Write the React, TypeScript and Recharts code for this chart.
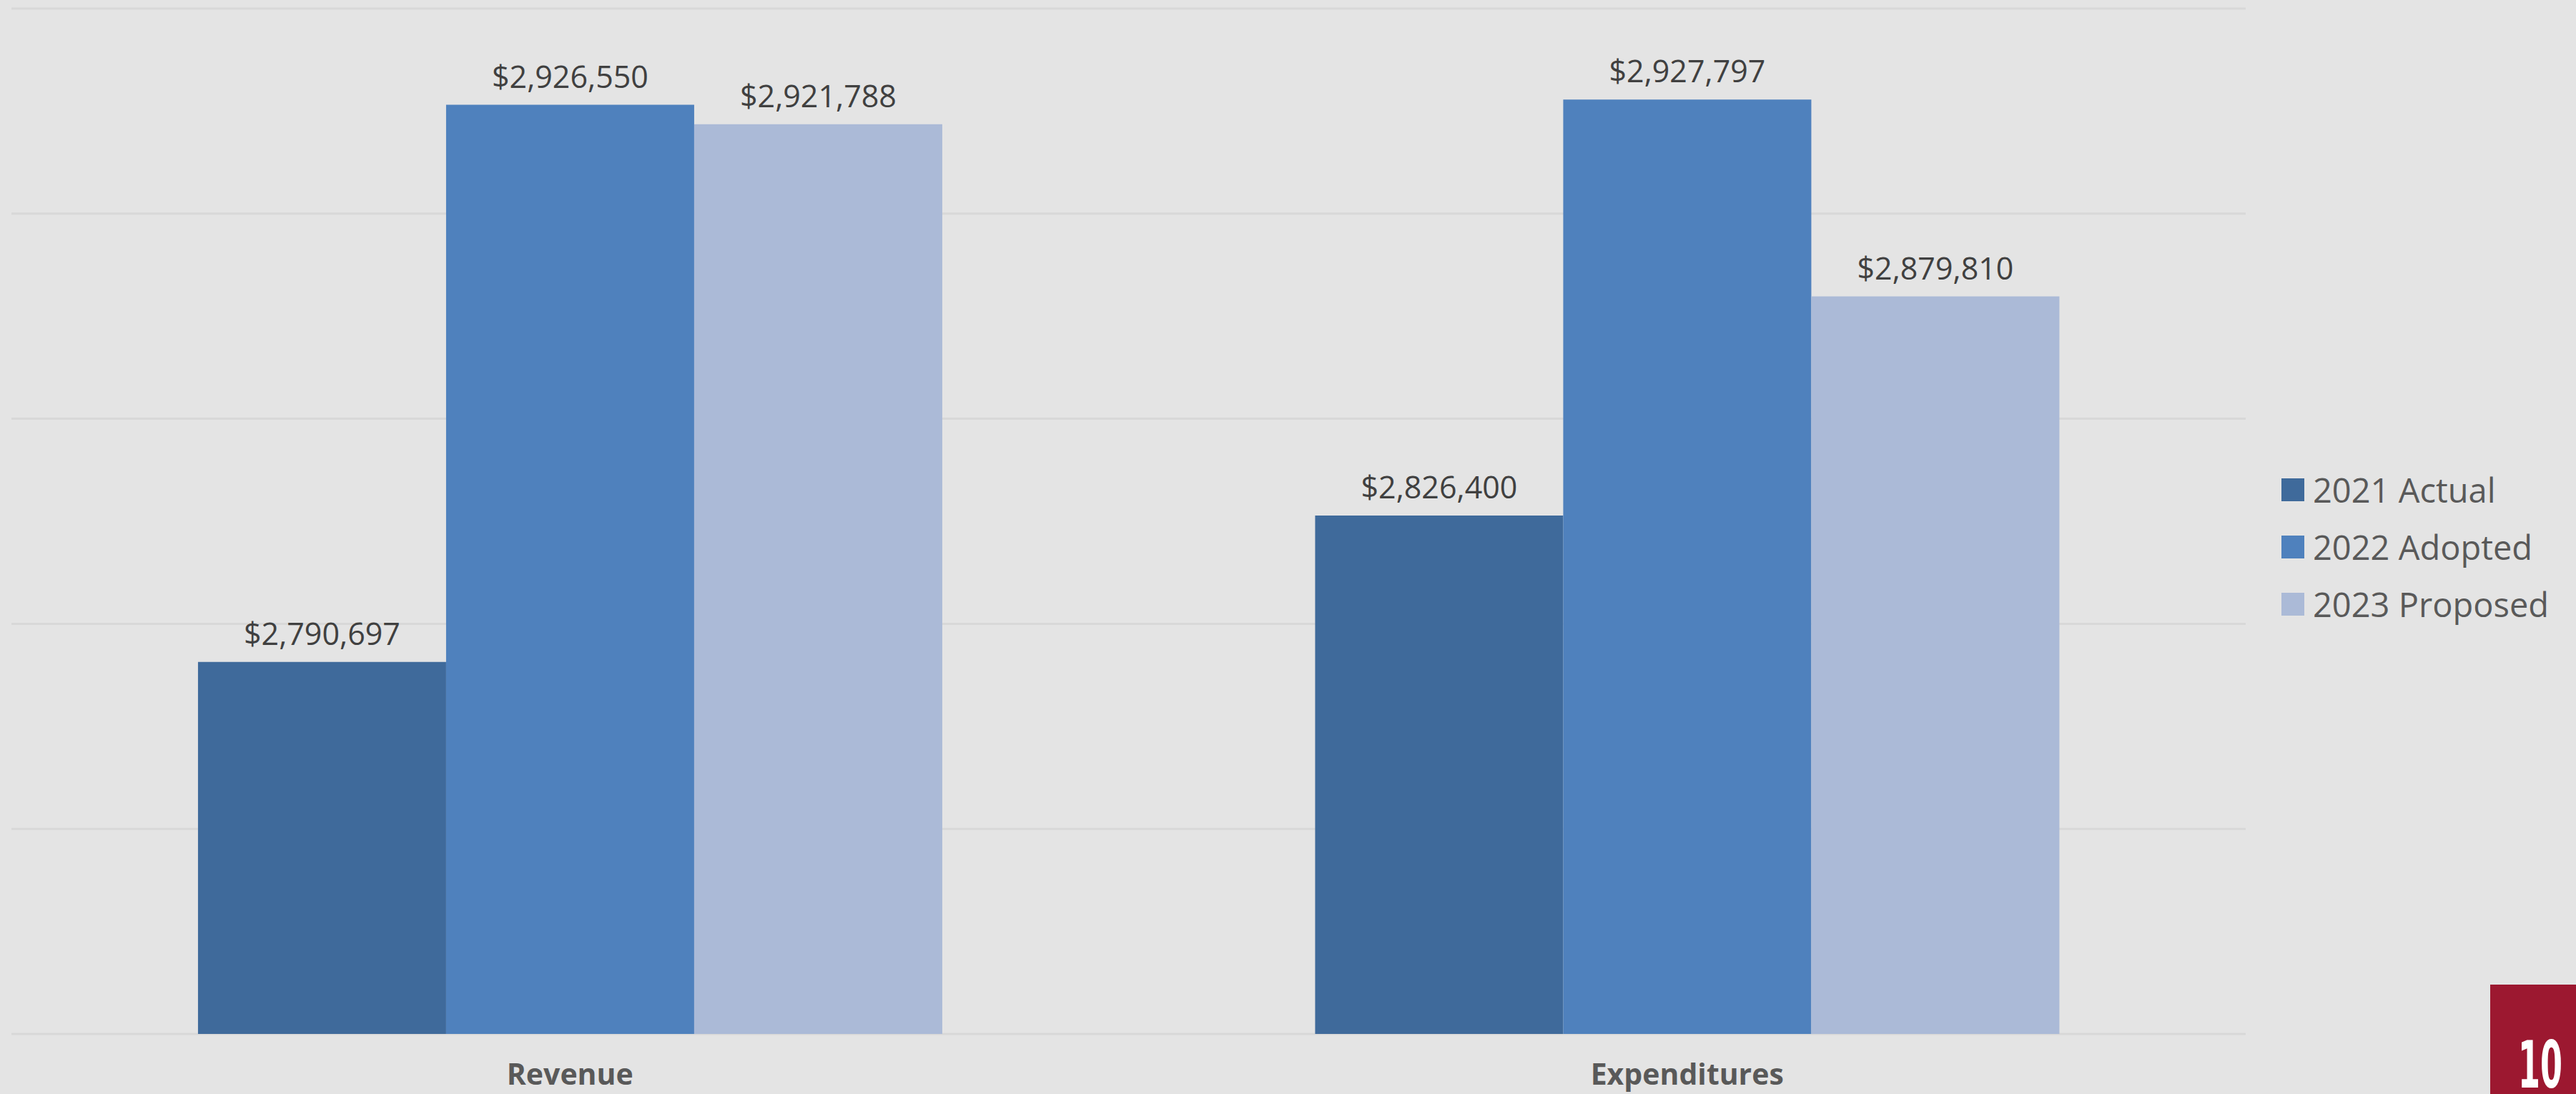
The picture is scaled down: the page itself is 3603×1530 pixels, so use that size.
import React from 'react';
import { BarChart, Bar, XAxis, YAxis, CartesianGrid, LabelList } from 'recharts';

// values
const categories = ['Revenue', 'Expenditures'];
const actual2021 = [2790697, 2826400];
const adopted2022 = [2926550, 2927797];
const proposed2023 = [2921788, 2879810];
const yTicks = [2700000, 2750000, 2800000, 2850000, 2900000, 2950000];

const seriesNames = ['2021 Actual', '2022 Adopted', '2023 Proposed'];
const seriesKeys = ['actual', 'adopted', 'proposed'];
const colors = ['#3F6A9B', '#4F81BD', '#ABBAD7'];

const data = categories.map((name, i) => ({
    name,
    actual: actual2021[i],
    adopted: adopted2022[i],
    proposed: proposed2023[i],
}));

const W = 3603;
const H = 1530;
const BG = '#E4E4E4';

const money = (v: any) => '$' + Number(v).toLocaleString('en-US');

const CategoryTick = ({ x, y, payload }: any) => (
    <text
        x={x}
        y={y}
        dy={71}
        textAnchor="middle"
        fontFamily="'Open Sans', sans-serif"
        fontWeight="bold"
        fontSize={41}
        fill="#595959"
    >
        {payload.value}
    </text>
);

export default function App() {
    return (
        <div style={{ position: 'absolute', left: 0, top: 0, width: W, height: H, background: BG, overflow: 'hidden' }}>
            <BarChart
                width={W}
                height={H}
                data={data}
                margin={{ top: 12, right: 462, bottom: 0, left: 16 }}
                barCategoryGap="16.7%"
                barGap={0}
            >
                <CartesianGrid vertical={false} stroke="#D8D8D8" strokeWidth={3} />
                <XAxis
                    dataKey="name"
                    height={84}
                    axisLine={false}
                    tickLine={false}
                    tickSize={0}
                    tickMargin={0}
                    tick={<CategoryTick />}
                />
                <YAxis hide domain={[2700000, 2950000]} ticks={yTicks} allowDataOverflow />
                {seriesKeys.map((k, i) => (
                    <Bar key={k} dataKey={k} name={seriesNames[i]} fill={colors[i]} isAnimationActive={false}>
                        <LabelList
                            dataKey={k}
                            position="top"
                            offset={24}
                            formatter={money}
                            fill="#404040"
                            fontSize={43}
                            fontFamily="'Open Sans', sans-serif"
                        />
                    </Bar>
                ))}
            </BarChart>

            {/* legend */}
            <div style={{ position: 'absolute', left: 3191, top: 645, fontFamily: "'Open Sans', sans-serif", fontSize: 47, color: '#595959' }}>
                {seriesNames.map((n, i) => (
                    <div key={n} style={{ display: 'flex', alignItems: 'center', height: 80, whiteSpace: 'nowrap' }}>
                        <span style={{ display: 'inline-block', width: 32, height: 32, background: colors[i], marginRight: 12 }} />
                        <span>{n}</span>
                    </div>
                ))}
            </div>

            {/* page number badge */}
            <svg style={{ position: 'absolute', left: 3483, top: 1377 }} width={120} height={153}>
                <rect x={0} y={0} width={120} height={153} fill="#9C1830" />
                <text
                    x={39}
                    y={144}
                    fontFamily="'DejaVu Sans Condensed', 'DejaVu Sans', sans-serif"
                    fontWeight="bold"
                    fontSize={90}
                    fill="#FFFFFF"
                    textLength={62}
                    lengthAdjust="spacingAndGlyphs"
                >
                    10
                </text>
            </svg>
        </div>
    );
}
